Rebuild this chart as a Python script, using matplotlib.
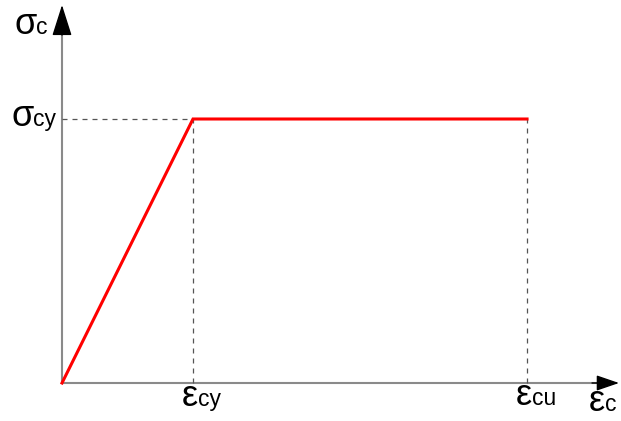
import matplotlib
matplotlib.use("Agg")
import matplotlib.pyplot as plt

# normalised elastic-perfectly-plastic concrete model
eps_cy = 1.0
eps_cu = 3.55
sig_cy = 1.0
strain = [0.0, eps_cy, eps_cu]
stress = [0.0, sig_cy, sig_cy]

fig = plt.figure(figsize=(6.21, 4.21), dpi=100)
ax = fig.add_axes([0, 0, 1, 1])
# origin sits at pixel (62, 383)
sx, sy = 131.0, 264.0
ax.set_xlim(-62 / sx, (621 - 62) / sx)
ax.set_ylim(-38 / sy, (421 - 38) / sy)
ax.axis("off")

fam = ["Liberation Sans", "DejaVu Sans"]
gray = "#8a8a8a"

# axes with arrow heads
ax.plot([0, 0], [0, 352 / sy], color=gray, lw=1.5, solid_capstyle="butt")
ax.plot([0, 540 / sx], [0, 0], color=gray, lw=1.5, solid_capstyle="butt")
ax.annotate("", xy=(0, 378 / sy), xytext=(0, 348 / sy), annotation_clip=False,
            arrowprops=dict(arrowstyle="-|>,head_length=1.95,head_width=0.62",
                            color="black", lw=1.0, shrinkA=0, shrinkB=0))
ax.annotate("", xy=(557 / sx, 0), xytext=(530 / sx, 0), annotation_clip=False,
            arrowprops=dict(arrowstyle="-|>,head_length=1.4,head_width=0.48",
                            color="black", lw=1.0, shrinkA=0, shrinkB=0))

# guide lines
dash = dict(color="#555555", lw=0.9, ls=(0, (4, 4)))
ax.plot([0, eps_cy], [sig_cy, sig_cy], **dash)
ax.plot([eps_cy, eps_cy], [0, sig_cy], **dash)
ax.plot([eps_cu, eps_cu], [0, sig_cy], **dash)

# stress-strain curve
ax.plot(strain, stress, color="red", lw=2.2, solid_joinstyle="miter")


def label(x, y, big, small):
    # big letter then subscript, x/y given in picture pixels
    X = (x - 62) / sx
    Y = (383 - y) / sy
    t = ax.text(X, Y, big, fontsize=26, family=fam, va="baseline", ha="left")
    fig.canvas.draw()
    bb = t.get_window_extent()
    X2 = ax.transData.inverted().transform((bb.x1, 0))[0]
    ax.text(X2, Y, small, fontsize=16.5, family=fam, va="baseline", ha="left")


label(14, 34, "σ", "c")
label(11, 126, "σ", "cy")
label(182, 406, "ε", "cy")
label(516, 405, "ε", "cu")
label(589, 411, "ε", "c")

fig.savefig("out.png", dpi=100)
